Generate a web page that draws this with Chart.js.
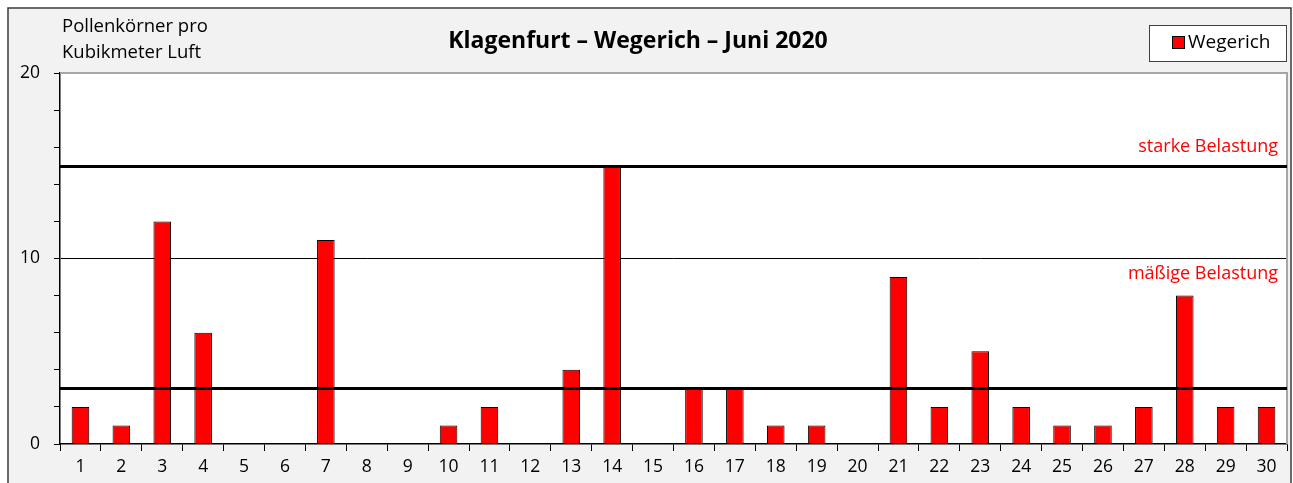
<!DOCTYPE html>
<html>
<head>
<meta charset="utf-8">
<script src="https://cdn.jsdelivr.net/npm/chart.js@4/dist/chart.umd.min.js"></script>
<style>
  html, body { margin: 0; padding: 0; background: #fff; }
  #wrap { width: 1293px; height: 483px; }
</style>
</head>
<body>
<div id="wrap"><canvas id="pollenChart"></canvas></div>
<script>
// Tage im Juni
const days = ['1','2','3','4','5','6','7','8','9','10','11','12','13','14','15',
              '16','17','18','19','20','21','22','23','24','25','26','27','28','29','30'];
// Pollenkörner pro m³ Luft
const wegerich = [2,1,12,6,0,0,11,0,0,1,2,0,4,15,0,3,3,1,1,0,9,2,5,2,1,1,2,8,2,2];
// Belastungsgrenzen
const thresholds = [3, 15];
const thresholdLabels = ['mäßige Belastung', 'starke Belastung'];
const thresholdLabelAt = [9.15, 16.0];
const yTickLabels = [0, 10, 20];

const FONT = '"Open Sans", "Noto Sans", sans-serif';

// background, frame, title, caption, legend, thresholds
const decorPlugin = {
    id: 'decor',
    beforeDraw(chart) {
        const c = chart.ctx;
        const a = chart.chartArea;
        c.save();
        c.fillStyle = '#ffffff';
        c.fillRect(0, 0, chart.width, chart.height);
        c.fillStyle = '#f2f2f2';
        c.strokeStyle = '#3a3a3a';
        c.lineWidth = 1.5;
        c.fillRect(8, 8, chart.width - 10, chart.height);
        c.strokeRect(8, 8, chart.width - 10, chart.height + 5);
        c.fillStyle = '#ffffff';
        c.fillRect(a.left, a.top, a.right - a.left, a.bottom - a.top);
        c.restore();
    },
    afterDatasetsDraw(chart) {
        const c = chart.ctx;
        const a = chart.chartArea;
        const y = chart.scales.y;
        c.save();
        // plot frame top/right
        c.strokeStyle = '#a6a6a6';
        c.lineWidth = 2;
        c.beginPath();
        c.moveTo(a.left, a.top);
        c.lineTo(a.right, a.top);
        c.lineTo(a.right, a.bottom);
        c.stroke();
        // threshold lines
        c.strokeStyle = '#000000';
        c.lineWidth = 3;
        thresholds.forEach(v => {
            const py = Math.round(y.getPixelForValue(v)) + 0.5;
            c.beginPath();
            c.moveTo(a.left, py);
            c.lineTo(a.right, py);
            c.stroke();
        });
        c.fillStyle = '#ff0000';
        c.font = '18px ' + FONT;
        c.textAlign = 'right';
        c.textBaseline = 'middle';
        thresholdLabels.forEach((t, i) => {
            c.fillText(t, a.right - 9, y.getPixelForValue(thresholdLabelAt[i]));
        });
        // title
        c.fillStyle = '#000000';
        c.textAlign = 'center';
        c.font = 'bold 23px ' + FONT;
        c.fillText('Klagenfurt – Wegerich – Juni 2020', 638, 41);
        // axis caption
        c.textAlign = 'left';
        c.font = '18.5px ' + FONT;
        c.fillText('Pollenkörner pro', 62, 27);
        c.fillText('Kubikmeter Luft', 62, 53);
        // legend
        const ds = chart.data.datasets[0];
        c.fillStyle = '#ffffff';
        c.strokeStyle = '#404040';
        c.lineWidth = 1;
        c.fillRect(1149.5, 25.5, 137, 36);
        c.strokeRect(1149.5, 25.5, 137, 36);
        c.fillStyle = ds.backgroundColor;
        c.strokeStyle = '#000000';
        c.fillRect(1172.5, 36.5, 12, 12);
        c.strokeRect(1172.5, 36.5, 12, 12);
        c.fillStyle = '#000000';
        c.font = '19px ' + FONT;
        c.fillText(ds.label, 1188, 43);
        c.restore();
    }
};

new Chart(document.getElementById('pollenChart'), {
    type: 'bar',
    data: {
        labels: days,
        datasets: [{
            label: 'Wegerich',
            data: wegerich,
            backgroundColor: '#ff0000',
            borderColor: '#000000',
            borderWidth: 1,
            barPercentage: 0.43,
            categoryPercentage: 1.0
        }]
    },
    options: {
        responsive: true,
        maintainAspectRatio: false,
        animation: false,
        layout: { padding: { top: 73, right: 6, left: 0, bottom: 0 } },
        plugins: {
            legend: { display: false },
            title: { display: false },
            tooltip: { enabled: false }
        },
        scales: {
            x: {
                offset: true,
                grid: {
                    offset: true,
                    color: 'rgba(0,0,0,0)',
                    tickColor: '#000000',
                    tickLength: 7,
                    drawTicks: true
                },
                border: { color: '#000000', width: 1.5 },
                ticks: {
                    color: '#000000',
                    font: { family: FONT, size: 17.5 },
                    padding: 6,
                    maxRotation: 0,
                    autoSkip: false
                },
                afterFit(scale) { scale.height = 39; }
            },
            y: {
                min: 0,
                max: 20,
                grid: {
                    color: ctx => (ctx.tick && ctx.tick.value === 10) ? '#000000' : 'rgba(0,0,0,0)',
                    lineWidth: 1,
                    tickColor: '#000000',
                    tickLength: 6,
                    drawTicks: true
                },
                border: { color: '#000000', width: 1.5 },
                ticks: {
                    stepSize: 1,
                    color: '#000000',
                    font: { family: FONT, size: 17.5 },
                    padding: 14,
                    callback: v => yTickLabels.includes(v) ? String(v) : ''
                },
                afterFit(scale) { scale.width = 60; }
            }
        }
    },
    plugins: [decorPlugin]
});
</script>
</body>
</html>
